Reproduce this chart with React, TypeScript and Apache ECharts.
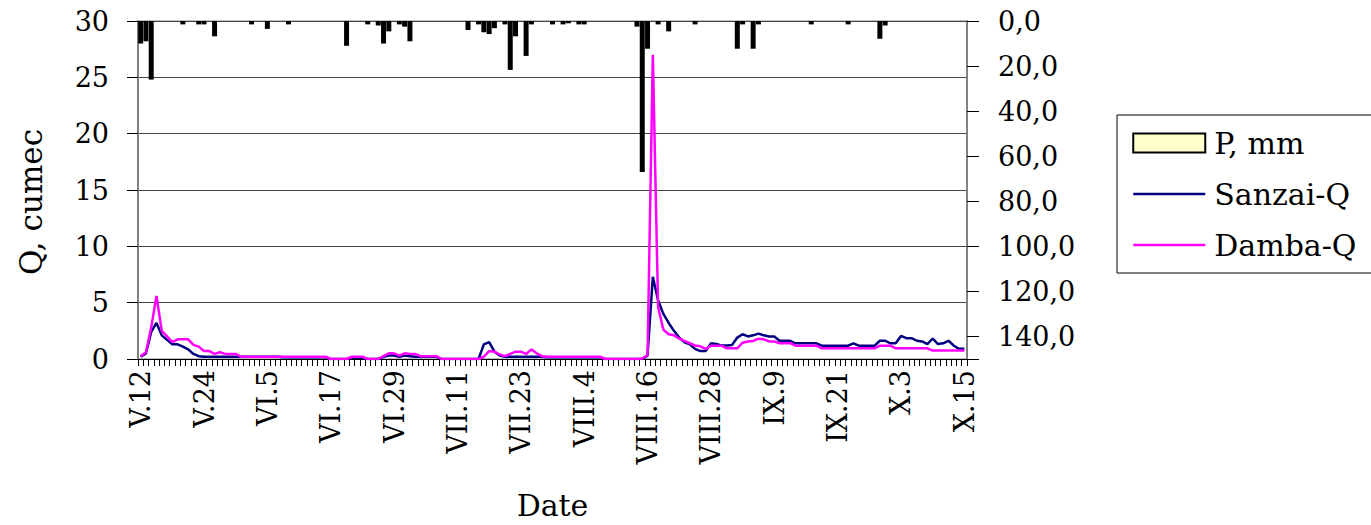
import React, { useEffect, useRef } from 'react';
import * as echarts from 'echarts';

// ---- categories (daily, V.12 .. X.15) ----
const MONTHS = ['V', 'VI', 'VII', 'VIII', 'IX', 'X'];
const MONTH_DAYS = [31, 30, 31, 31, 30, 31];
const START_DAY = 12;
const N_DAYS = 157;

function buildDates(): string[] {
  const out: string[] = [];
  let m = 0;
  let d = START_DAY;
  for (let i = 0; i < N_DAYS; i++) {
    out.push(MONTHS[m] + '.' + d);
    d++;
    if (d > MONTH_DAYS[m]) {
      d = 1;
      m++;
    }
  }
  return out;
}
const dates = buildDates();

// ---- series values ----
const sanzaiQ = [
  0.2, 0.5, 2.4, 3.2, 2.1, 1.7, 1.3, 1.3, 1.1, 0.85, 0.45, 0.25,
  0.2, 0.2, 0.2, 0.2, 0.2, 0.2, 0.2, 0.2, 0.2, 0.2, 0.2, 0.2, 0.2, 0.2, 0.2,
  0.15, 0.15, 0.15, 0.15, 0.15, 0.15, 0.15, 0.15, 0.15,
  0, 0, 0, 0,
  0.1, 0.1, 0.1,
  0, 0, 0,
  0.2, 0.3, 0.3, 0.2, 0.3, 0.25,
  0.2, 0.2, 0.2, 0.2, 0.2,
  0, 0, 0, 0, 0, 0, 0, 0,
  1.3, 1.5, 0.65, 0.3,
  0.2, 0.2, 0.2, 0.2, 0.2, 0.2, 0.2, 0.2,
  0.15, 0.15, 0.15, 0.15, 0.15, 0.15, 0.15, 0.15, 0.15, 0.15, 0.15,
  0, 0, 0, 0, 0, 0, 0, 0,
  0.3, 7.3, 5.2, 4.0, 3.2, 2.5, 1.9, 1.47, 1.3, 0.9, 0.7, 0.7,
  1.39, 1.33, 1.2, 1.2, 1.24, 1.9, 2.2, 2.0, 2.1, 2.25, 2.1, 2.0, 2.0,
  1.62, 1.62, 1.62, 1.39, 1.39, 1.39, 1.39, 1.39,
  1.18, 1.18, 1.18, 1.18, 1.18, 1.18,
  1.39, 1.18, 1.18, 1.18, 1.18,
  1.62, 1.62, 1.39, 1.39, 2.05, 1.85, 1.85, 1.62, 1.56, 1.33, 1.82, 1.33, 1.39, 1.62, 1.18, 0.9, 0.9,
];

const dambaQ = [
  0.25, 0.6, 2.8, 5.6, 2.5, 2.0, 1.5, 1.75, 1.75, 1.75, 1.25, 1.1, 0.7, 0.7, 0.45, 0.6, 0.45, 0.45, 0.45,
  0.2, 0.2, 0.2, 0.2, 0.2, 0.2, 0.2, 0.2, 0.2, 0.2, 0.2, 0.2, 0.2, 0.2, 0.2, 0.2, 0.2,
  0, 0, 0, 0,
  0.2, 0.2, 0.2,
  0, 0, 0,
  0.25, 0.5, 0.5, 0.3, 0.5, 0.45, 0.45,
  0.25, 0.25, 0.25, 0.25,
  0, 0, 0, 0, 0, 0, 0, 0,
  0.2, 0.7, 0.65, 0.4, 0.25, 0.45, 0.65, 0.65, 0.45, 0.85, 0.5, 0.25,
  0.2, 0.2, 0.2, 0.2, 0.2, 0.2, 0.2, 0.2, 0.2, 0.2, 0.2,
  0, 0, 0, 0, 0, 0, 0,
  0.05, 0.35, 27, 4.6, 2.6, 2.2, 2.1, 1.8, 1.6, 1.4, 1.2, 1.13, 0.9,
  1.18, 1.18, 1.18, 0.95, 0.95, 0.95, 1.45, 1.55, 1.6, 1.8, 1.75, 1.56, 1.56,
  1.4, 1.4, 1.4, 1.18, 1.18, 1.18, 1.18, 1.18,
  0.95, 0.95, 0.95, 0.95, 0.95, 0.95, 0.95, 0.95, 0.95, 0.95, 0.95,
  1.18, 1.18, 1.18,
  0.95, 0.95, 0.95, 0.95, 0.95, 0.95, 0.95,
  0.75, 0.75, 0.75, 0.75, 0.75, 0.75, 0.75,
];

const precipMm = [
  10, 9, 26, 0, 0, 0, 0, 0, 1.5, 0,
  0, 1.5, 1.5, 0, 6.8, 0, 0, 0, 0, 0,
  0, 1.5, 0, 0, 3.5, 0, 0, 0, 1.5, 0,
  0, 0, 0, 0, 0, 0, 0, 0, 0, 11,
  0, 0, 0, 1.5, 0, 2, 10, 4.6, 0, 1.5,
  2.5, 9, 0, 0, 0, 0, 0, 0, 0, 0,
  0, 0, 4, 0, 1.5, 5, 5.8, 3.2, 0, 1.5,
  21.7, 6.8, 0, 15.5, 1.5, 0, 0, 0, 1.5, 0,
  1.5, 1, 0, 1.5, 1.5, 0, 0, 0, 0, 0,
  0, 0, 0, 0, 2.5, 67, 12.3, 0, 1.5, 0,
  4.6, 0, 0, 0, 0, 1.5, 0, 0, 0, 0,
  0, 0, 0, 12.3, 1.5, 0, 12.3, 1.5, 0, 0,
  0, 0, 0, 0, 0, 0, 0, 1.5, 0, 0,
  0, 0, 0, 0, 1.5, 0, 0, 0, 0, 0,
  7.9, 2, 0, 0, 0, 0, 0, 0, 0, 0,
  0, 0, 0, 0, 0, 0, 0,
];

const FONT = "'DejaVu Serif', 'Liberation Serif', serif";
const HIDDEN_SYMBOL = { color: 'rgba(0,0,0,0)', borderColor: 'rgba(0,0,0,0)', borderWidth: 0, opacity: 0 };

export default function App() {
  const ref = useRef<HTMLDivElement>(null);

  useEffect(() => {
    if (!ref.current) return;
    const chart = echarts.init(ref.current, null, { renderer: 'svg' });
    chart.setOption({
      animation: false,
      backgroundColor: '#ffffff',
      textStyle: { fontFamily: FONT, color: '#000' },
      grid: {
        left: 138,
        top: 21,
        width: 829,
        height: 346,
        show: true,
        borderColor: '#808080',
        borderWidth: 1,
        containLabel: false,
      },
      legend: {
        orient: 'vertical',
        left: 1117,
        top: 115,
        padding: [13, 40, 13, 15],
        itemGap: 21,
        itemWidth: 72,
        itemHeight: 19,
        borderColor: '#000',
        borderWidth: 1,
        textStyle: { fontFamily: FONT, fontSize: 30, color: '#000', padding: [0, 0, 0, 4] },
        data: [
          { name: 'P, mm', icon: 'rect', itemStyle: { color: '#FFFFCC', borderColor: '#000', borderWidth: 2 } },
          { name: 'Sanzai-Q', itemStyle: HIDDEN_SYMBOL, lineStyle: { color: '#000080', width: 2.5 } },
          { name: 'Damba-Q', itemStyle: HIDDEN_SYMBOL, lineStyle: { color: '#FF00FF', width: 2.5 } },
        ],
      },
      xAxis: {
        type: 'category',
        data: dates,
        boundaryGap: true,
        name: 'Date',
        nameLocation: 'middle',
        nameGap: 131,
        nameTextStyle: { fontFamily: FONT, fontSize: 30, color: '#000' },
        axisLine: { show: true, lineStyle: { color: '#000', width: 1 } },
        axisTick: { show: true, interval: 0, length: 7, lineStyle: { color: '#000', width: 1 } },
        axisLabel: {
          interval: 11,
          rotate: 90,
          margin: 11,
          fontFamily: FONT,
          fontSize: 27,
          color: '#000',
        },
        splitLine: { show: false },
      },
      yAxis: [
        {
          type: 'value',
          min: 0,
          max: 30,
          interval: 5,
          name: 'Q, cumec',
          nameLocation: 'middle',
          nameGap: 92,
          nameTextStyle: { fontFamily: FONT, fontSize: 31, color: '#000', padding: [0, 24, 0, 0] },
          axisLine: { show: true, lineStyle: { color: '#808080', width: 2 } },
          axisTick: { show: true, length: 11, lineStyle: { color: '#000', width: 1 } },
          axisLabel: { margin: 29, fontFamily: FONT, fontSize: 27, color: '#000', padding: [5, 0, 0, 0] },
          splitLine: { show: true, lineStyle: { color: '#444', width: 1 } },
        },
        {
          type: 'value',
          min: 0,
          max: 150,
          interval: 20,
          inverse: true,
          position: 'right',
          axisLine: { show: true, lineStyle: { color: '#808080', width: 2 } },
          axisTick: { show: true, length: 12, lineStyle: { color: '#000', width: 1 } },
          axisLabel: {
            margin: 31,
            fontFamily: FONT,
            fontSize: 27,
            color: '#000',
            padding: [3, 0, 0, 0],
            formatter: (v: number) => (v > 140 ? '' : v.toFixed(1).replace('.', ',')),
          },
          splitLine: { show: false },
        },
      ],
      series: [
        {
          name: 'P, mm',
          type: 'bar',
          yAxisIndex: 1,
          barWidth: 5,
          data: precipMm.map((v) => (v === 0 ? '-' : v)),
          itemStyle: { color: '#000', borderWidth: 0 },
        },
        {
          name: 'Sanzai-Q',
          type: 'line',
          yAxisIndex: 0,
          data: sanzaiQ,
          symbol: 'none',
          showSymbol: false,
          lineStyle: { color: '#000080', width: 2.5 },
          itemStyle: { color: '#000080' },
        },
        {
          name: 'Damba-Q',
          type: 'line',
          yAxisIndex: 0,
          data: dambaQ,
          symbol: 'none',
          showSymbol: false,
          lineStyle: { color: '#FF00FF', width: 2.5 },
          itemStyle: { color: '#FF00FF' },
        },
      ],
    });
    return () => chart.dispose();
  }, []);

  return (
    <div
      ref={ref}
      style={{ position: 'absolute', left: 0, top: 0, width: 1371, height: 525, background: '#fff' }}
    />
  );
}
